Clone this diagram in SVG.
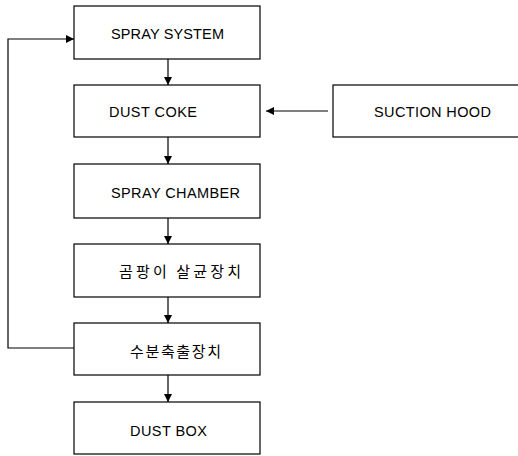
<svg xmlns="http://www.w3.org/2000/svg" width="518" height="456" viewBox="0 0 518 456">
<defs>
<marker id="ah" viewBox="0 0 10 10" refX="10" refY="5" markerWidth="8" markerHeight="8" markerUnits="userSpaceOnUse" orient="auto">
<path d="M0,0 L10,5 L0,10 Z" fill="#000"/>
</marker>
<style>
.box{fill:#fff;stroke:#000;stroke-width:1.2}
.t{font-family:"Liberation Sans",Arial,sans-serif;font-size:14.5px;fill:#000}
.k{font-family:"Noto Sans CJK KR","Liberation Sans",sans-serif;font-size:15px;fill:#000}
.c{fill:none;stroke:#000;stroke-width:1.2}
</style>
</defs>
<rect width="518" height="456" fill="#fff"/>
<g id="n1"><rect class="box" x="74" y="6" width="186" height="53"/><text class="t" x="111" y="39" textLength="113">SPRAY SYSTEM</text></g>
<g id="n2"><rect class="box" x="74" y="85" width="186" height="52"/><text class="t" x="109" y="117" textLength="88">DUST COKE</text></g>
<g id="n3"><rect class="box" x="74" y="164" width="186" height="54"/><text class="t" x="111" y="198" textLength="129">SPRAY CHAMBER</text></g>
<g id="n4"><rect class="box" x="74" y="244" width="186" height="53"/><text class="k" x="119" y="277" textLength="122">곰팡이 살균장치</text></g>
<g id="n5"><rect class="box" x="74" y="323" width="186" height="52"/><text class="k" x="130" y="357" textLength="91">수분축출장치</text></g>
<g id="n6"><rect class="box" x="74" y="402" width="186" height="52"/><text class="t" x="130" y="436" textLength="77">DUST BOX</text></g>
<g id="n7"><rect class="box" x="333" y="85" width="200" height="52"/><text class="t" x="374" y="117" textLength="117">SUCTION HOOD</text></g>
<g id="connectors">
<line class="c" x1="168" y1="59" x2="168" y2="85" marker-end="url(#ah)"/>
<line class="c" x1="168" y1="137" x2="168" y2="164" marker-end="url(#ah)"/>
<line class="c" x1="168" y1="218" x2="168" y2="244" marker-end="url(#ah)"/>
<line class="c" x1="168" y1="297" x2="168" y2="323" marker-end="url(#ah)"/>
<line class="c" x1="168" y1="375" x2="168" y2="402" marker-end="url(#ah)"/>
<line class="c" x1="328" y1="111" x2="266" y2="111" marker-end="url(#ah)"/>
<path class="c" d="M74,348 H8 V39 H74" marker-end="url(#ah)"/>
</g>
</svg>
